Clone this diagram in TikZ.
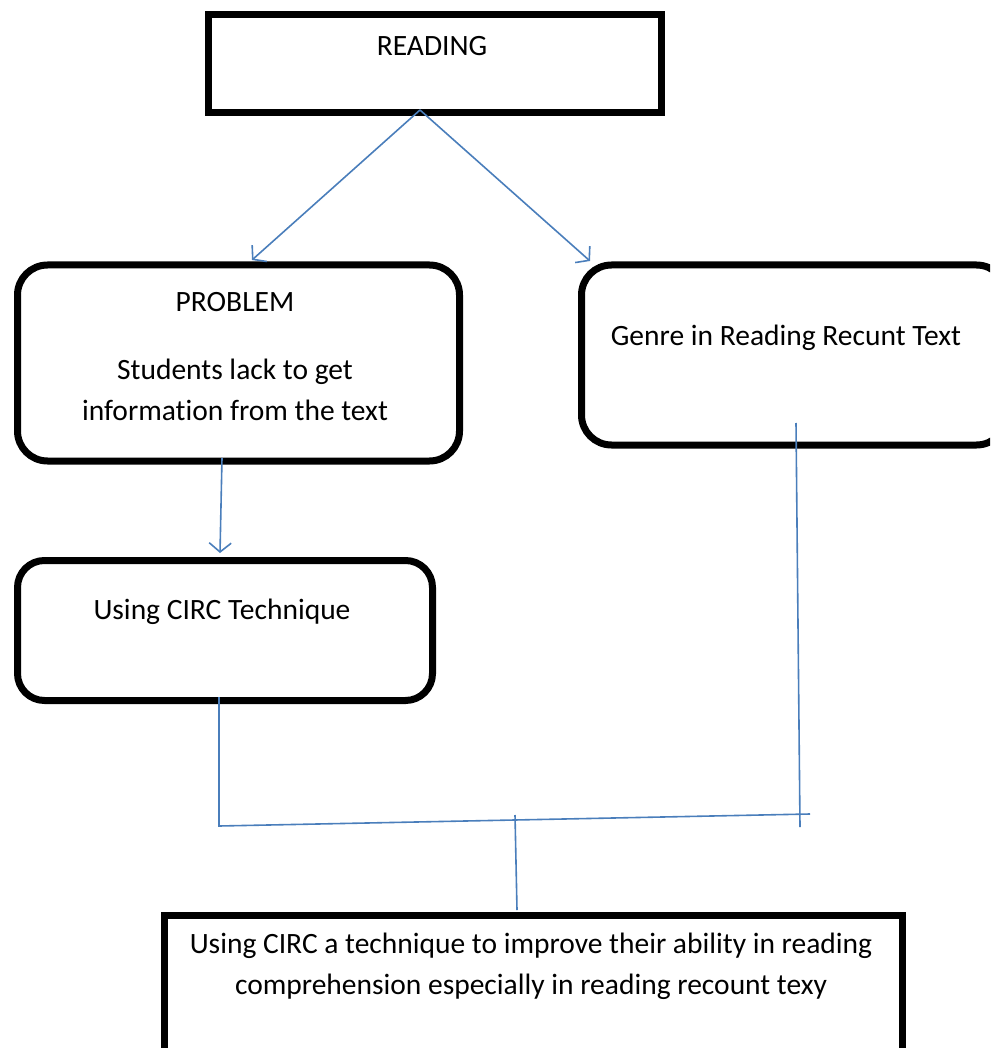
\documentclass[tikz,border=0pt]{standalone}
\usepackage{fontspec}
\setmainfont{Carlito}[Ligatures=NoCommon]
\usetikzlibrary{arrows.meta}
\definecolor{lineblue}{HTML}{4A7EBB}
\tikzset{
  sqbox/.style={draw=black, line width=7pt, rectangle, inner sep=0pt, anchor=north west},
  rbox/.style={draw=black, line width=7pt, rectangle, rounded corners=30pt, inner sep=0pt, anchor=north west},
  txt/.style={font=\fontsize{29.5}{41}\selectfont, inner sep=0pt, align=center},
  link/.style={draw=lineblue, line width=1.6pt},
  arr/.style={link, -{Straight Barb[length=9pt,width=22pt,line width=1.6pt]}}
}
\begin{document}
\begin{tikzpicture}[x=1pt,y=-1pt]
\useasboundingbox (0,0) rectangle (990,1048);
\clip (0,0) rectangle (990,1048);
% boxes
\node[sqbox, minimum width=453pt, minimum height=98pt] (reading) at (205,11) {};
\node[rbox, minimum width=442pt, minimum height=196pt] (problem) at (14,261.5) {};
\node[rbox, minimum width=425pt, minimum height=180pt] (genre) at (578,261.5) {};
\node[rbox, rounded corners=27pt, minimum width=415pt, minimum height=140pt] (circ) at (14,557) {};
\node[sqbox, minimum width=738pt, minimum height=160pt] (result) at (161,912) {};
% texts
\node[txt] (treading) at (432,46) {READING};
\node[txt] (tproblem) at (235,302) {PROBLEM};
\node[txt] (tstudents) at (235,390) {Students lack to get\\information from the text};
\node[txt] (tgenre) at (786,338) {Genre in Reading Recunt Text};
\node[txt] (tcirc) at (222,612) {Using CIRC Technique};
\node[txt] (tresult) at (531,966) {Using CIRC a technique to improve their ability in reading\\comprehension especially in reading recount texy};
% connector points
\coordinate (rs) at (420,110);
\coordinate (pa) at (252,260);
\coordinate (ga) at (590,261);
\coordinate (ps) at (222,458);
\coordinate (ca) at (220,553);
\coordinate (cs) at (219,697);
\coordinate (jl) at (219,826);
\coordinate (jr) at (810,814);
\coordinate (gs) at (796,423);
\coordinate (gb) at (800,827);
\coordinate (mt) at (515,815);
\coordinate (mb) at (517,910);
% connectors
\draw[arr] (rs) -- (pa);
\draw[arr] (rs) -- (ga);
\draw[arr] (ps) -- (ca);
\draw[link] (cs) -- (jl) -- (jr);
\draw[link] (gs) -- (gb);
\draw[link] (mt) -- (mb);
\end{tikzpicture}
\end{document}
